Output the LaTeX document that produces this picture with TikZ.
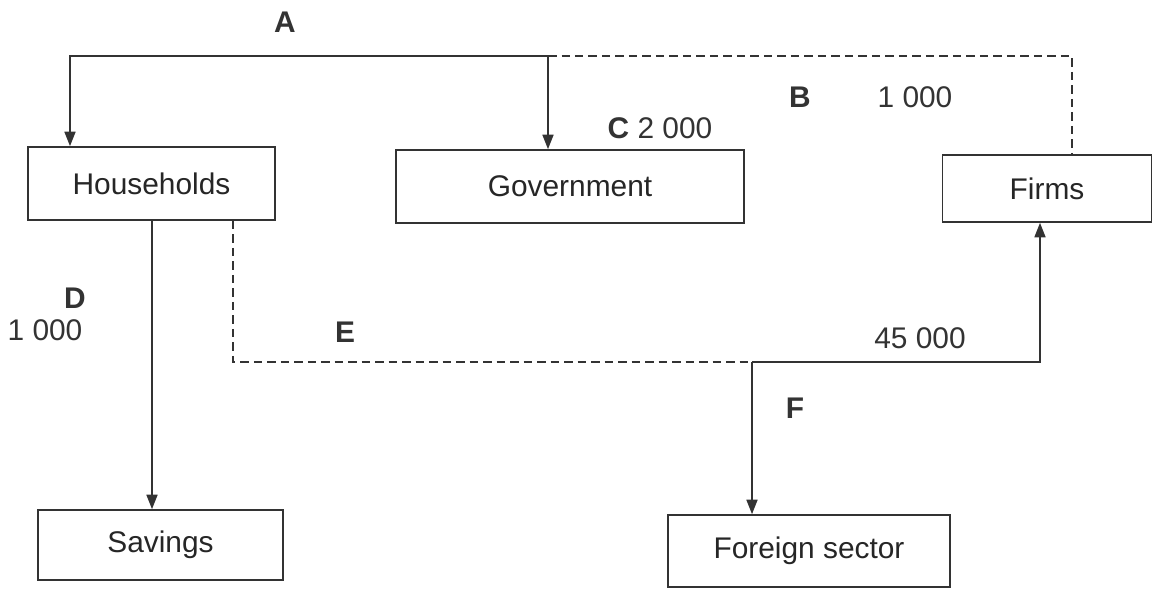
\documentclass[tikz,border=0pt]{standalone}
\usepackage{fontspec}
\setmainfont{Liberation Sans}
\usetikzlibrary{arrows.meta}
\begin{document}
\begin{tikzpicture}[x=0.02cm,y=-0.02cm,
  ink/.style={draw=black!80, line width=0.9pt},
  box/.style={ink, rectangle, inner sep=0pt, font=\fontsize{17}{20}\selectfont, text=black!85},
  flow/.style={ink, -{Triangle[length=0.29cm,width=0.22cm]}},
  dashflow/.style={ink, dash pattern=on 0.17cm off 0.1cm},
  lbl/.style={font=\fontsize{17}{20}\selectfont\bfseries, text=black!80, inner sep=0pt},
  num/.style={font=\fontsize{17}{20}\selectfont, text=black!80, inner sep=0pt}]
  \useasboundingbox (0,0) rectangle (1154,589);

  % sectors
  \node[box, minimum width=247*0.02cm, minimum height=73*0.02cm] (hh)  at (151.5,183.5) {Households};
  \node[box, minimum width=348*0.02cm, minimum height=73*0.02cm] (gov) at (570,186.5) {Government};
  \node[box, minimum width=209*0.02cm, minimum height=67*0.02cm] (fir) at (1047,188.5) {Firms};
  \node[box, minimum width=245*0.02cm, minimum height=70*0.02cm] (sav) at (160.5,545) {Savings};
  \node[box, minimum width=282*0.02cm, minimum height=72*0.02cm] (for) at (809,551) {Foreign sector};

  % junction points of the flows
  \coordinate (tl) at (70,56);
  \coordinate (tm) at (548,56);
  \coordinate (tr) at (1072,56);
  \coordinate (sv) at (152,300);
  \coordinate (el) at (233,362);
  \coordinate (em) at (752,362);
  \coordinate (er) at (1040,362);

  % top flows
  \draw[flow] (tm) -- (tl) -- (tl |- hh.north);
  \draw[flow] (tm) -- (tm |- gov.north);
  \draw[dashflow] (tm) -- (tr) -- (tr |- fir.north);

  % households to savings
  \draw[flow] (sv |- hh.south) -- (sv |- sav.north);

  % lower flows
  \draw[dashflow] (el |- hh.south) -- (el) -- (em);
  \draw[flow] (em) -- (er) -- (er |- fir.south);
  \draw[flow] (em) -- (em |- for.north);

  % labels
  \node[lbl] (la) at (285,22) {A};
  \node[lbl] (lb) at (800,97) {B};
  \node[num] (nb) at (915,97) {1 000};
  \node[num] (nc) at (660,128) {\textbf{C} 2 000};
  \node[lbl] (ld) at (75,298) {D};
  \node[num] (nd) at (45,330) {1 000};
  \node[lbl] (le) at (345,332) {E};
  \node[num] (ne) at (920,338) {45 000};
  \node[lbl] (lf) at (795,408) {F};
\end{tikzpicture}
\end{document}
